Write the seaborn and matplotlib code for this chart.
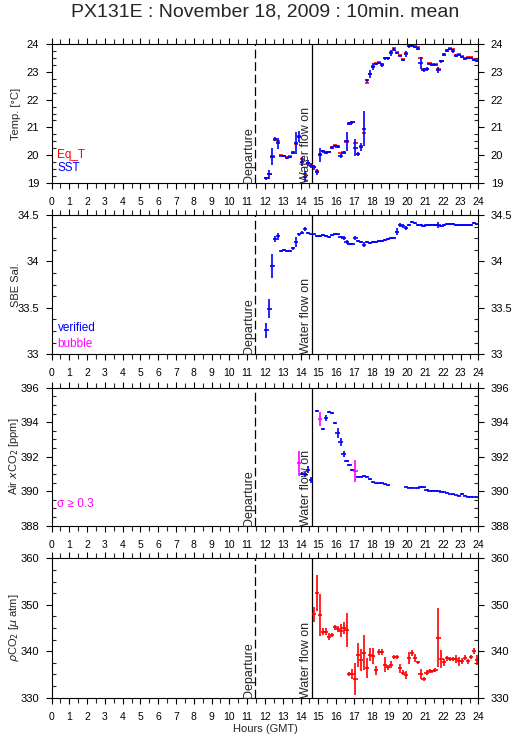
import numpy as np
import pandas as pd
import matplotlib
matplotlib.use("Agg")
import matplotlib.pyplot as plt
import matplotlib.transforms as mtransforms
from matplotlib.ticker import MultipleLocator, AutoMinorLocator, FuncFormatter
import seaborn as sns

nan = np.nan

# 10-min mean bins, 12:05 ... 23:55 GMT
hours = np.arange(12 + 5 / 60, 24, 10 / 60)

departure_h = 11.43
water_on_h = 14.65

sst = [19.16, 19.30, 19.94, 20.58, 20.43, 19.98, 19.96, 19.90, 19.93, 20.09,
       20.43, 20.67, 19.76, 19.22, 19.72, 19.62, 19.55, 19.38, 20.00, 20.13,
       20.08, 20.10, 20.27, 20.33, 20.30, 19.97, 20.08, 20.49, 21.13, 21.18,
       20.27, 20.03, 20.30, 20.96, 22.70, 22.93, 23.20, 23.30, 23.33, 23.26,
       23.50, 23.50, 23.69, 23.81, 23.70, 23.60, 23.45, 23.66, 23.93, 23.95,
       23.90, 23.85, 23.33, 23.08, 23.10, 23.30, 23.26, 23.27, 23.08, 23.39,
       23.63, 23.77, 23.84, 23.76, 23.60, 23.62, 23.54, 23.49, 23.50, 23.50,
       23.45, 23.40]
sst_sd = [0.05, 0.15, 0.30, 0.08, 0.20, 0.03, 0.03, 0.04, 0.03, 0.05,
          0.40, 0.20, 0.17, 0.20, 0.10, 0.08, 0.08, 0.12, 0.25, 0.05,
          0.05, 0.04, 0.04, 0.04, 0.06, 0.08, 0.05, 0.35, 0.05, 0.06,
          0.30, 0.07, 0.15, 0.65, 0.06, 0.15, 0.12, 0.03, 0.03, 0.06,
          0.05, 0.05, 0.12, 0.06, 0.04, 0.03, 0.04, 0.12, 0.05, 0.04,
          0.04, 0.06, 0.20, 0.06, 0.07, 0.04, 0.04, 0.04, 0.11, 0.05,
          0.05, 0.05, 0.03, 0.06, 0.04, 0.03, 0.03, 0.02, 0.03, 0.03,
          0.03, 0.03]
eq_t = [19.17, 19.33, 19.96, 20.55, 20.50, 20.00, 19.98, 19.92, 19.95, 20.11,
        20.40, 20.70, 19.87, 19.30, 19.70, 19.65, 19.58, 19.42, 20.03, 20.16,
        20.10, 20.12, 20.29, 20.35, 20.32, 20.07, 20.10, 20.47, 21.15, 21.20,
        20.45, 20.05, 20.32, 20.80, 22.62, 22.95, 23.22, 23.33, 23.36, 23.28,
        23.52, 23.52, 23.72, 23.86, 23.72, 23.62, 23.48, 23.68, 23.96, 23.98,
        23.93, 23.90, 23.50, 23.12, 23.12, 23.32, 23.28, 23.30, 23.10, 23.41,
        23.66, 23.80, 23.88, 23.82, 23.63, 23.65, 23.57, 23.52, 23.53, 23.53,
        23.48, 23.43]

sal = [33.26, 33.49, 33.95, 34.24, 34.27, 34.11, 34.12, 34.11, 34.11, 34.14,
       34.21, 34.29, 34.31, 34.35, 34.31, 34.29, 34.29, 34.27, 34.27, 34.28,
       34.27, 34.26, 34.28, 34.29, 34.29, 34.26, 34.25, 34.21, 34.19, 34.19,
       34.25, 34.22, 34.21, 34.18, 34.21, 34.20, 34.21, 34.21, 34.22, 34.22,
       34.23, 34.24, 34.25, 34.25, 34.32, 34.39, 34.38, 34.36, 34.39, 34.42,
       34.41, 34.39, 34.39, 34.38, 34.39, 34.39, 34.39, 34.39, 34.39, 34.38,
       34.39, 34.40, 34.40, 34.40, 34.39, 34.39, 34.39, 34.39, 34.39, 34.39,
       34.41, 34.40]
sal_sd = [0.08, 0.10, 0.13, 0.03, 0.04, 0.01, 0.01, 0.01, 0.01, 0.02,
          0.05, 0.02, 0.02, 0.02, 0.01, 0.01, 0.01, 0.01, 0.01, 0.01,
          0.01, 0.01, 0.01, 0.01, 0.01, 0.01, 0.02, 0.02, 0.01, 0.01,
          0.02, 0.01, 0.01, 0.03, 0.01, 0.01, 0.01, 0.01, 0.01, 0.01,
          0.01, 0.01, 0.01, 0.01, 0.04, 0.02, 0.02, 0.02, 0.01, 0.01,
          0.01, 0.01, 0.01, 0.01, 0.01, 0.01, 0.01, 0.01, 0.03, 0.01,
          0.01, 0.01, 0.01, 0.01, 0.01, 0.01, 0.01, 0.01, 0.01, 0.01,
          0.01, 0.01]

air_xco2 = [nan] * 11 + [
    391.62, 390.98, 390.98, 391.25, 390.65, nan,
    394.67, 394.17, 393.59, 394.26, 394.61, 394.55, 393.97, 393.36, 392.87,
    392.16, 391.75, 391.52, 391.23, 391.17, 390.84, 390.84, 390.88, 390.84,
    390.69, 390.52, 390.46, 390.46, 390.46, 390.40, 390.36,
    nan, nan, nan, nan, nan,
    390.26, 390.20, 390.20, 390.19, 390.19, 390.26, 390.22, 390.10, 390.03,
    390.03, 390.03, 390.01, 389.97, 389.95, 389.91, 389.84, 389.82, 389.78,
    389.74, 389.82, 389.74, 389.68, 389.68, 389.66, 389.64]
air_sd = [nan] * 11 + [
    0.74, 0.05, 0.15, 0.20, 0.15, nan,
    0.05, 0.40, 0.06, 0.18, 0.05, 0.05, 0.05, 0.28, 0.22,
    0.20, 0.05, 0.05, 0.05, 0.63, 0.03, 0.03, 0.03, 0.03,
    0.03, 0.03, 0.03, 0.03, 0.03, 0.03, 0.03,
    nan, nan, nan, nan, nan,
    0.03, 0.02, 0.02, 0.02, 0.02, 0.05, 0.02, 0.02, 0.02,
    0.02, 0.02, 0.02, 0.02, 0.02, 0.02, 0.02, 0.02, 0.02,
    0.02, 0.06, 0.02, 0.02, 0.02, 0.02, 0.02]

pco2 = [nan] * 16 + [
    347.96, 352.47, 347.80, 344.20, 344.20, 343.14, 343.50, 345.16, 344.80, 344.36,
    345.00, 344.58, 335.12, 335.12, 334.04, 339.20, 338.13, 339.70, 336.34, 339.20,
    339.00, 335.90, 339.80, 339.80, 337.06, 336.50, 337.10, 338.70, 338.70, 336.30,
    335.40, 334.90, 338.50, 339.60, 338.50, 337.60, 335.10, 334.00, 335.40, 335.80,
    335.70, 335.90, 342.90, 338.35, 337.60, 338.50, 338.35, 338.35, 338.35, 337.80,
    337.90, 338.60, 337.80, 338.80, 340.07, 338.10]
pco2_sd = [nan] * 16 + [
    1.6, 3.9, 4.5, 0.7, 0.7, 0.7, 0.5, 0.5, 0.6, 1.4,
    1.3, 3.6, 0.4, 1.0, 3.5, 2.6, 2.3, 3.8, 2.1, 1.4,
    1.8, 1.0, 0.6, 0.6, 1.6, 0.5, 0.7, 0.4, 0.4, 1.0,
    0.6, 0.9, 1.25, 0.6, 0.9, 0.3, 1.1, 0.4, 0.5, 0.4,
    0.3, 0.4, 6.3, 1.9, 0.8, 0.5, 0.4, 0.4, 0.9, 1.0,
    0.7, 0.5, 0.6, 0.4, 0.6, 1.1]

df = pd.DataFrame({"hour": hours, "sst": sst, "sst_sd": sst_sd, "eq_t": eq_t,
                   "sal": sal, "sal_sd": sal_sd, "air": air_xco2, "air_sd": air_sd,
                   "pco2": pco2, "pco2_sd": pco2_sd})

BLUE, RED, MAG = "#0000ff", "#ff0000", "#ff00ff"
HALF_W = 0.12  # half width of the horizontal tick of each 10-min mean, hours

sns.set_theme(style="ticks")
plt.rcParams['font.family'] = ['Liberation Sans', 'DejaVu Sans']
plt.rcParams['axes.linewidth'] = 0.8
plt.rcParams['axes.edgecolor'] = 'black'


def bars(ax, d, col, sdcol, color, lw=1.2):
    d = d.dropna(subset=[col])
    ax.errorbar(d["hour"], d[col], xerr=HALF_W, yerr=d[sdcol], fmt="none",
                ecolor=color, elinewidth=lw, capsize=0)


def setup(ax, ylim, major, ylabel):
    ax.set_xlim(0, 24)
    ax.set_ylim(*ylim)
    ax.xaxis.set_major_locator(MultipleLocator(1))
    ax.xaxis.set_minor_locator(MultipleLocator(0.5))
    ax.yaxis.set_major_locator(MultipleLocator(major))
    ax.yaxis.set_minor_locator(AutoMinorLocator(4))
    ax.yaxis.set_major_formatter(FuncFormatter(lambda v, p: f"{v:g}"))
    ax.tick_params(axis="x", which="major", direction="out", top=True, bottom=True,
                   length=4.5, width=0.8, labelsize=7.5, pad=5.5, colors="black")
    ax.tick_params(axis="x", which="minor", direction="out", top=True, bottom=True,
                   length=3.5, width=0.8)
    ax.tick_params(axis="y", which="major", direction="out", left=True, right=True,
                   labelleft=True, labelright=True, length=4, width=0.8,
                   labelsize=8, pad=5, colors="black")
    ax.tick_params(axis="y", which="minor", direction="in", left=True, right=True,
                   length=3, width=0.8)
    ax.set_ylabel(ylabel, fontsize=8)
    ax.yaxis.set_label_coords(-0.072, 0.5)
    ax.grid(False)
    trans = mtransforms.blended_transform_factory(ax.transData, ax.transAxes)
    ax.axvline(departure_h, color="black", lw=0.9, ls=(0, (7, 3)))
    ax.axvline(water_on_h, color="black", lw=0.9)
    ax.text(departure_h, 0, "Departure", transform=trans, rotation=90,
            ha="right", va="bottom", fontsize=9)
    ax.text(water_on_h, 0, "Water flow on", transform=trans, rotation=90,
            ha="right", va="bottom", fontsize=9)


fig = plt.figure(figsize=(5.15, 7.39), dpi=100)
left, width = 0.100, 0.829
ax1 = fig.add_axes([left, 0.7528, width, 0.1870])
ax2 = fig.add_axes([left, 0.5206, width, 0.1885])
ax3 = fig.add_axes([left, 0.2886, width, 0.1867])
ax4 = fig.add_axes([left, 0.0559, width, 0.1886])

# Temperature
setup(ax1, (19, 24), 1, "Temp. [°C]")
d = df.copy()
d["eq_sd"] = 0.01
bars(ax1, d, "eq_t", "eq_sd", RED)
bars(ax1, d, "sst", "sst_sd", BLUE)
ax1.text(0.014, 0.20, "Eq_T", color=RED, transform=ax1.transAxes, fontsize=8.5, va="center")
ax1.text(0.014, 0.105, "SST", color=BLUE, transform=ax1.transAxes, fontsize=8.5, va="center")

# Salinity
setup(ax2, (33, 34.5), 0.5, "SBE Sal.")
bars(ax2, df, "sal", "sal_sd", BLUE)
ax2.text(0.014, 0.19, "verified", color=BLUE, transform=ax2.transAxes, fontsize=8.5, va="center")
ax2.text(0.014, 0.075, "bubble", color=MAG, transform=ax2.transAxes, fontsize=8.5, va="center")

# Air xCO2, flagged where sigma >= 0.3
setup(ax3, (388, 396), 2, "Air $x$CO$_2$ [ppm]")
ok = df[df["air_sd"] < 0.3]
flag = df[df["air_sd"] >= 0.3]
bars(ax3, ok, "air", "air_sd", BLUE)
bars(ax3, flag, "air", "air_sd", MAG)
ax3.text(0.014, 0.157, "σ ≥ 0.3", color=MAG, transform=ax3.transAxes, fontsize=8.5, va="center")

# pCO2
setup(ax4, (330, 360), 10, "$\\rho$CO$_2$ [$\\mu$ atm]")
bars(ax4, df, "pco2", "pco2_sd", RED)
ax4.set_xlabel("Hours (GMT)", fontsize=8, labelpad=2)

fig.text(0.5146, 0.9774, "PX131E : November 18, 2009 : 10min. mean",
         ha="center", va="baseline", fontsize=14)

fig.savefig("out.png", dpi=100, facecolor="white")
